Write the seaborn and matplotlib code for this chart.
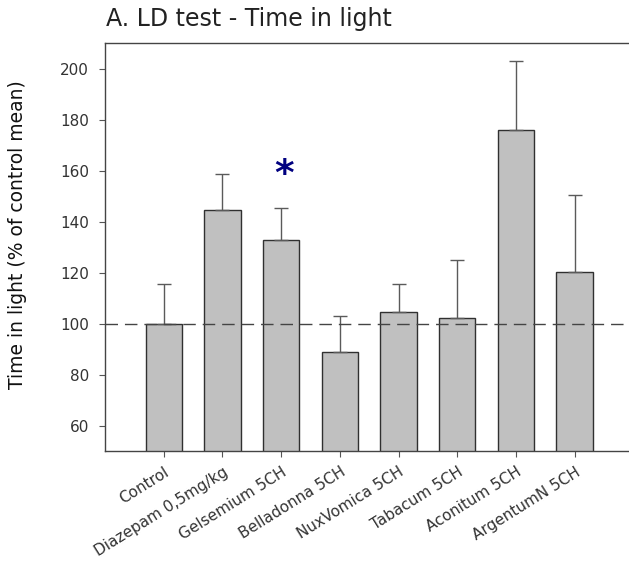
import matplotlib
matplotlib.use("Agg")
import matplotlib.pyplot as plt
import seaborn as sns
import pandas as pd
import numpy as np

categories = ["Control", "Diazepam 0,5mg/kg", "Gelsemium 5CH", "Belladonna 5CH",
              "NuxVomica 5CH", "Tabacum 5CH", "Aconitum 5CH", "ArgentumN 5CH"]
means = [100.0, 144.4, 132.6, 88.8, 104.7, 102.3, 175.8, 120.2]
err_upper = [15.4, 14.1, 12.6, 14.1, 10.9, 22.5, 27.1, 30.4]
yticks = [60, 80, 100, 120, 140, 160, 180, 200]
significant = ["Gelsemium 5CH"]

sns.set_theme(style="white")
plt.rcParams['font.family'] = ['DejaVu Sans']

df = pd.DataFrame({"group": categories, "value": means})

fig = plt.figure(figsize=(6.29, 5.61), dpi=100)
ax = fig.add_axes([0.167, 0.196, 0.84, 0.727])

sns.barplot(data=df, x="group", y="value", ax=ax, color="#c0c0c0",
            edgecolor="#303030", linewidth=1.0, width=0.62, errorbar=None,
            saturation=1)

xs = np.arange(len(categories))
ax.errorbar(xs, means, yerr=[np.zeros(len(means)), err_upper], fmt="none",
            ecolor="#5a5a5a", elinewidth=1.0, capsize=5, capthick=1.0, zorder=1)

ax.axhline(100, color="#444444", linestyle=(0, (9, 5)), linewidth=1.0, zorder=3)

for cat in significant:
    i = categories.index(cat)
    ax.text(i + 0.05, means[i] + err_upper[i] + 6, "*", color="#000080",
            fontsize=27, fontweight="bold", ha="center", va="bottom")

ax.set_xlim(-1, 8.0)
ax.set_ylim(50, 210)
ax.set_yticks(yticks)
ax.set_yticklabels([str(t) for t in yticks], fontsize=11, color="#333333")
ax.set_xticks(xs)
ax.set_xticklabels(categories, rotation=32, ha="right", va="top",
                   rotation_mode="anchor", fontsize=11, color="#333333")
ax.tick_params(axis="y", direction="out", length=4.5, width=0.8, color="#555555",
               left=True, pad=7)
ax.tick_params(axis="x", direction="out", length=4.5, width=0.8, color="#555555",
               bottom=True, pad=5)
ax.set_xlabel("")
ax.set_ylabel("Time in light (% of control mean)", fontsize=13.5, color="#111111")
ax.yaxis.set_label_coords(-0.148, 0.53)

for side in ["left", "bottom", "top"]:
    ax.spines[side].set_visible(True)
    ax.spines[side].set_color("#444444")
    ax.spines[side].set_linewidth(1.0)
ax.spines["right"].set_visible(False)

fig.text(0.168, 0.966, "A. LD test - Time in light", fontsize=17, color="#222222",
         ha="left", va="center")

fig.savefig("out.png", dpi=100)
